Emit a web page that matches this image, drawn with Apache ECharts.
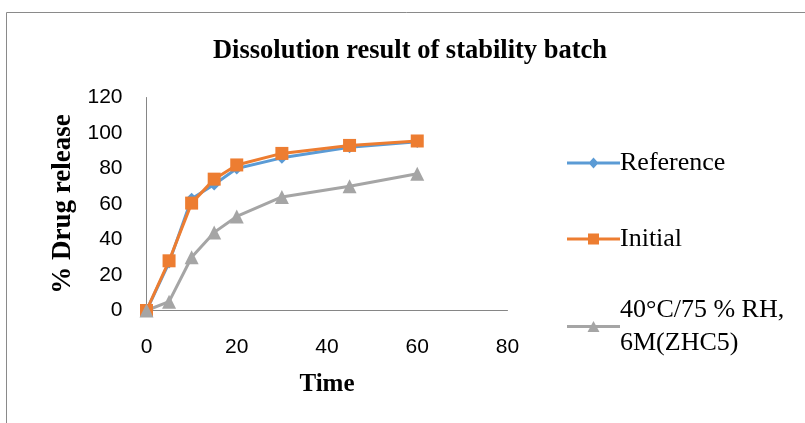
<!DOCTYPE html>
<html><head><meta charset="utf-8">
<script src="https://cdn.jsdelivr.net/npm/echarts@6/dist/echarts.min.js"></script>
<style>html,body{margin:0;padding:0;background:#fff}#c{width:805px;height:423px}</style>
</head><body><div id="c"></div>
<script>
const time = [0, 5, 10, 15, 20, 30, 45, 60];
const reference = [0, 27, 63, 71, 80, 86, 92, 95];
const initial = [0, 28, 60.5, 74, 82, 88.5, 93, 95.5];
const stability = [0, 5, 30, 44, 53, 64, 70, 77];
const seriesNames = ['Reference', 'Initial', '40°C/75 % RH, 6M(ZHC5)'];
const xTicks = [0, 20, 40, 60, 80];
const yTicks = [0, 20, 40, 60, 80, 100, 120];

const serif = 'Liberation Serif';
const sans = 'Liberation Sans';
const pair = (ys) => time.map((t, i) => [t, ys[i]]);

// legend icons: 3px line with the series marker in the middle (53x12 box)
const bar = 'M0,4.5L53,4.5L53,7.5L0,7.5Z';
const icons = [
  'path://' + bar + 'M21.5,6L26.5,0.5L31.5,6L26.5,11.5Z M0,0.01L0.01,0Z M53,12L52.99,12Z',
  'path://' + bar + 'M21,0.5L32,0.5L32,11.5L21,11.5Z M0,0.01L0.01,0Z M53,12L52.99,12Z',
  'path://' + bar + 'M26.5,0.5L32.5,11.5L20.5,11.5Z M0,0.01L0.01,0Z M53,12L52.99,12Z'
];

const chart = echarts.init(document.getElementById('c'));
const legendBase = {
  orient: 'vertical', left: 562, itemWidth: 53, itemHeight: 12, itemGap: 0,
  selectedMode: false,
  textStyle: { fontFamily: serif, fontSize: 26, color: '#000', padding: [0, 0, 0, -5] }
};
chart.setOption({
  animation: false,
  backgroundColor: '#fff',
  graphic: [{
    type: 'rect', shape: { x: 6.5, y: 12.5, width: 900, height: 500 },
    style: { fill: 'none', stroke: '#8a8a8a', lineWidth: 1 }, silent: true
  }],
  title: {
    text: 'Dissolution result of stability batch', left: 405, top: 33, textAlign: 'center',
    textStyle: { fontFamily: serif, fontWeight: 'bold', fontSize: 26.5, color: '#000' }
  },
  grid: { left: 146.5, right: 297.5, top: 97.5, bottom: 112.5, containLabel: false },
  legend: [
    Object.assign({}, legendBase, { top: 160 - 15, data: [{ name: seriesNames[0], icon: icons[0] }] }),
    Object.assign({}, legendBase, { top: 236 - 15, data: [{ name: seriesNames[1], icon: icons[1] }] }),
    Object.assign({}, legendBase, {
      top: 313 - 15 - 26, data: [{ name: seriesNames[2], icon: icons[2] }],
      formatter: () => '40°C/75 % RH,\n6M(ZHC5)',
      textStyle: Object.assign({}, legendBase.textStyle, { lineHeight: 33, padding: [33, 0, 0, -5] })
    })
  ],
  xAxis: {
    type: 'value', min: xTicks[0], max: xTicks[xTicks.length - 1], interval: 20,
    name: 'Time', nameLocation: 'middle', nameGap: 62,
    nameTextStyle: { fontFamily: serif, fontWeight: 'bold', fontSize: 25, color: '#000' },
    axisLine: { lineStyle: { color: '#868686', width: 1 } },
    axisTick: { show: false }, splitLine: { show: false },
    axisLabel: { fontFamily: sans, fontSize: 21, color: '#000', margin: 26 }
  },
  yAxis: {
    type: 'value', min: yTicks[0], max: yTicks[yTicks.length - 1], interval: 20,
    name: '% Drug release', nameLocation: 'middle', nameGap: 70, nameRotate: 90,
    nameTextStyle: { fontFamily: serif, fontWeight: 'bold', fontSize: 27, color: '#000' },
    axisLine: { show: true, lineStyle: { color: '#868686', width: 1 } },
    axisTick: { show: false }, splitLine: { show: false },
    axisLabel: { fontFamily: sans, fontSize: 21, color: '#000', margin: 24 }
  },
  series: [
    { name: seriesNames[0], type: 'line', data: pair(reference), symbol: 'diamond', symbolSize: 12,
      lineStyle: { color: '#5B9BD5', width: 3 }, itemStyle: { color: '#5B9BD5' } },
    { name: seriesNames[1], type: 'line', data: pair(initial), symbol: 'rect', symbolSize: 13,
      lineStyle: { color: '#ED7D31', width: 3 }, itemStyle: { color: '#ED7D31' } },
    { name: seriesNames[2], type: 'line', data: pair(stability), symbol: 'triangle', symbolSize: 14,
      lineStyle: { color: '#A5A5A5', width: 3 }, itemStyle: { color: '#A5A5A5' } }
  ]
});
</script></body></html>
